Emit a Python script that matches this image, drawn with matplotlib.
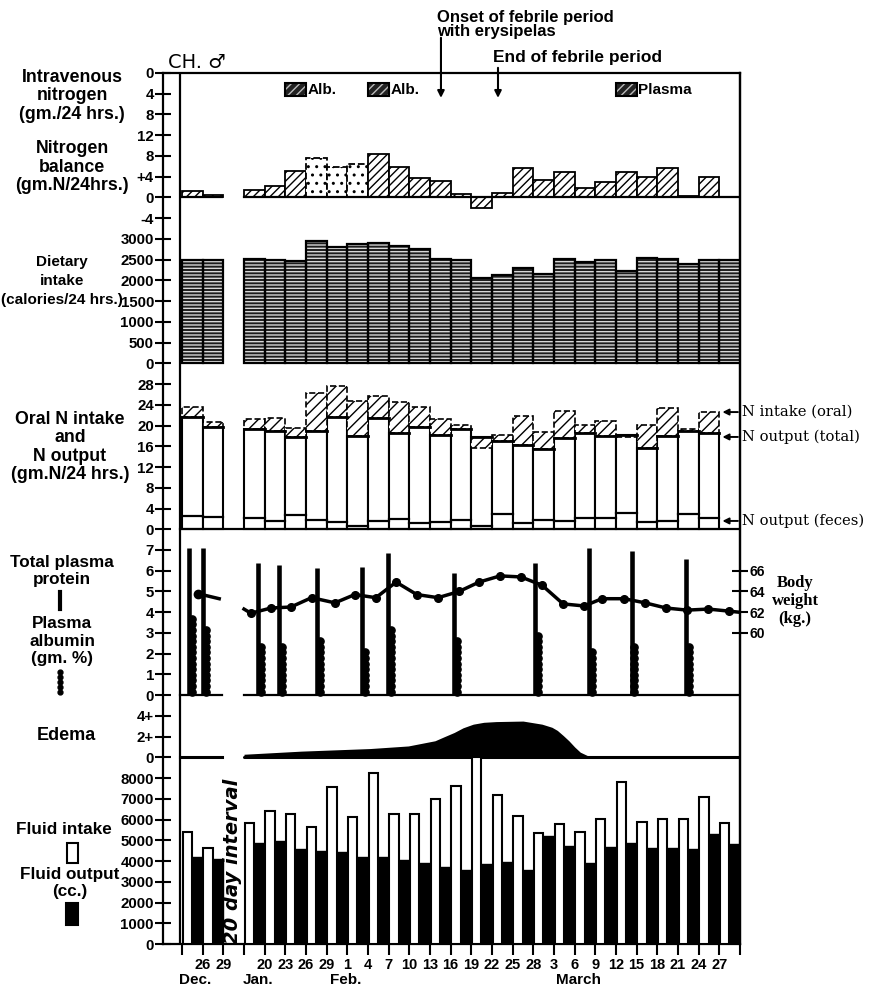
import numpy as np
import matplotlib
matplotlib.use('Agg')
import matplotlib.pyplot as plt
from matplotlib.lines import Line2D
from matplotlib.patches import Rectangle

plt.rcParams['font.family'] = ['DejaVu Sans']
plt.rcParams['hatch.linewidth'] = 1.0
NARROW = 'Liberation Sans'

nan = np.nan
# ---------------- data ----------------
# 3-day periods: two in December (slots 0,1), then a 20-day gap, then Jan 17 .. Mar 30 (slots 3..26)
slots = [0, 1] + list(range(3, 27))
x_tick_labels = ['', '26', '29', '', '20', '23', '26', '29', '1', '4', '7', '10', '13', '16',
                 '19', '22', '25', '28', '3', '6', '9', '12', '15', '18', '21', '24', '27', '']
month_labels = ['Dec.', 'Jan.', 'Feb.', 'March']
month_pos = [0.65, 3.7, 7.9, 19.2]

iv_slots = [5, 9, 21]
iv_nitrogen = [4.4, 4.4, 4.4]
iv_labels = ['Alb.', 'Alb.', 'Plasma']

n_balance = [1.3, 0.4,
             1.5, 2.2, 5.1, 7.7, 5.8, 6.4, 8.4, 5.8, 3.7, 3.2, 0.6, -2.0,
             0.8, 5.6, 3.3, 5.0, 1.8, 2.9, 5.0, 4.0, 5.6, 0.2, 4.0, nan]

dietary = [2500, 2490,
           2520, 2500, 2460, 2940, 2800, 2870, 2900, 2825, 2760, 2520, 2480, 2050,
           2120, 2300, 2150, 2520, 2440, 2480, 2220, 2530, 2520, 2400, 2500, 2480]

oral_intake = [23.5, 20.7,
               21.3, 21.5, 19.6, 26.3, 27.6, 24.7, 25.7, 24.6, 23.5, 21.3, 20.2, 15.7,
               18.1, 21.9, 18.7, 22.8, 20.2, 20.8, 17.8, 20.2, 23.4, 19.4, 22.6, nan]
n_output_total = [21.6, 19.8,
                  19.4, 19.0, 17.8, 18.9, 21.6, 17.9, 21.5, 18.6, 19.7, 18.1, 19.4, 17.8,
                  17.1, 16.2, 15.4, 17.6, 18.6, 17.9, 18.1, 15.7, 17.9, 18.9, 18.6, nan]
n_output_feces = [2.6, 2.4,
                  2.2, 1.5, 2.8, 1.8, 1.3, 0.6, 1.5, 1.9, 1.2, 1.4, 1.8, 0.6,
                  2.9, 1.2, 1.8, 1.5, 2.1, 2.1, 3.2, 1.3, 1.6, 2.9, 2.2, nan]

protein_x = [0.36, 1.02, 3.70, 4.70, 6.55, 8.73, 9.99, 13.15, 17.07, 19.71, 21.75, 24.41]
total_protein = [7.1, 7.1, 6.35, 6.27, 6.11, 6.19, 6.84, 5.9, 6.39, 7.08, 6.97, 6.55]
albumin = [3.69, 3.41, 2.55, 2.34, 2.64, 2.23, 3.23, 2.72, 3.09, 2.23, 2.6, 2.51]

weight_dec_x = [0.75, 1.8]
weight_dec = [63.8, 63.3]
weight_x = [3.0, 3.33, 4.30, 5.27, 6.27, 7.40, 8.36, 9.38, 10.36, 11.36, 12.39, 13.41, 14.37,
            15.39, 16.40, 17.42, 18.44, 19.46, 20.32, 21.40, 22.41, 23.43, 24.44, 25.47, 26.48, 26.95]
weight = [62.3, 61.9, 62.4, 62.5, 63.4, 62.9, 63.7, 63.4, 64.9, 63.7, 63.4, 64.0, 64.9,
          65.5, 65.4, 64.6, 62.8, 62.6, 63.3, 63.3, 62.9, 62.4, 62.2, 62.3, 62.1, 62.0]

edema_x = [3.0, 5.77, 9.10, 10.95, 12.24, 12.7, 13.17, 13.6, 14.09, 14.6, 15.2, 16.5, 17.42,
           17.9, 18.16, 18.45, 18.72, 19.0, 19.27, 19.64, 20.5, 27.0]
edema = [0.3, 0.6, 0.85, 1.1, 1.6, 2.0, 2.4, 2.85, 3.2, 3.38, 3.45, 3.5, 3.2,
         2.9, 2.6, 2.1, 1.6, 1.0, 0.5, 0.15, 0.08, 0.08]

fluid_intake = [5380, 4630,
                5820, 6390, 6270, 5660, 7580, 6110, 8250, 6270, 6270, 6990, 7630, 9000,
                7200, 6170, 5370, 5770, 5420, 6030, 7790, 5900, 6030, 6030, 7080, 5850]
fluid_output = [4180, 4100,
                4870, 4980, 4580, 4500, 4460, 4180, 4180, 4070, 3890, 3730, 3590, 3860,
                3970, 3570, 5210, 4740, 3890, 4700, 4860, 4650, 4620, 4580, 5290, 4810]

y_tick_labels = ['0', '1000', '2000', '3000', '4000', '5000', '6000', '7000', '8000',
                 '0', '2+', '4+',
                 '0', '1', '2', '3', '4', '5', '6', '7',
                 '0', '4', '8', '12', '16', '20', '24', '28',
                 '0', '500', '1000', '1500', '2000', '2500', '3000',
                 '-4', '0', '+4', '8', '12', '8', '4', '0']
weight_ticks = [60, 62, 64, 66]

# ---------------- band mapping (one common vertical scale) ----------------
def u_nb(v): return 36 + v / 4
def u_iv(v): return 42 - v / 4
def u_diet(v): return 28 + v / 500
def u_oral(v): return 20 + v / 4
def u_pl(v): return 12 + v
def u_bw(w): return 15 + (w - 60) / 2
def u_ed(v): return 9 + v / 2
def u_fl(v): return v / 1000

W, H = 872, 986
fig = plt.figure(figsize=(W / 100, H / 100), dpi=100)
ax = fig.add_axes([163 / W, 1 - 944 / H, (740 - 163) / W, (944 - 73) / H])
ax.set_xlim(-0.92, 27)
ax.set_ylim(0, 42)
for sp in ax.spines.values():
    sp.set_linewidth(1.6)

def ftext(xp, yp, s, **kw):
    kw.setdefault('fontweight', 'bold')
    kw.setdefault('family', NARROW)
    fig.text(xp / W, 1 - yp / H, s, **kw)

# inner frame line
ax.plot([-0.1, -0.1], [0, 42], color='k', lw=1.6)

# ---- intravenous nitrogen
for s, v, lab in zip(iv_slots, iv_nitrogen, iv_labels):
    ax.bar(s, 0.6, bottom=u_iv(v), width=1, align='edge', facecolor='#222222',
           edgecolor='#bdbdbd', hatch='////', lw=0, zorder=3)
    ax.add_patch(Rectangle((s, u_iv(v)), 1, 0.6, fill=False, edgecolor='k', lw=1.5, zorder=4))
    ax.text(s + 1.08, u_iv(v) + 0.3, lab, ha='left', va='center', fontsize=11,
            fontweight='bold', family=NARROW)

# ---- nitrogen balance
for s, v in zip(slots, n_balance):
    if np.isnan(v):
        continue
    hatch = '..' if s in (6, 7, 8) else '////'
    ls = '--' if s in (6, 7, 8) else '-'
    bottom = 36 if v >= 0 else u_nb(v)
    ax.bar(s, abs(v) / 4, bottom=bottom, width=1, align='edge', facecolor='white',
           edgecolor='k', hatch=hatch, lw=1.3, linestyle=ls, zorder=3)
ax.plot([0, 1.95], [36, 36], color='k', lw=1.6, zorder=4)
ax.plot([3, 27], [36, 36], color='k', lw=1.6, zorder=4)

# ---- dietary intake
d_u = [u_diet(v) - 28 for v in dietary]
ax.bar(slots, d_u, bottom=28, width=1, align='edge', facecolor='#1c1c1c',
       edgecolor='#d8d8d8', hatch='-----', lw=0, zorder=3)
ax.bar(slots, d_u, bottom=28, width=1, align='edge', fill=False, edgecolor='k', lw=1.6, zorder=4)

# ---- oral N intake / output
for s, ni, nt, nf in zip(slots, oral_intake, n_output_total, n_output_feces):
    if np.isnan(nt):
        continue
    ax.bar(s, u_oral(nt) - 20, bottom=20, width=1, align='edge', facecolor='white',
           edgecolor='k', lw=1.5, zorder=3)
    lo, hi = min(ni, nt), max(ni, nt)
    ax.bar(s, (hi - lo) / 4, bottom=u_oral(lo), width=1, align='edge', facecolor='white',
           edgecolor='k', hatch='///', lw=1.2, linestyle='--', zorder=4)
    ax.plot([s, s + 1], [u_oral(nt)] * 2, color='k', lw=2, zorder=5)
    ax.plot([s, s + 1], [u_oral(nf)] * 2, color='k', lw=1.6, zorder=5)
ax.plot([-0.1, 27], [20, 20], color='k', lw=1.6, zorder=5)

for lab, val in [('N intake (oral)', 22.6), ('N output (total)', 17.8), ('N output (feces)', 1.6)]:
    ax.annotate(lab, xy=(26.15, u_oral(val)), xytext=(27.1, u_oral(val)),
                ha='left', va='center', fontsize=10.6, family='DejaVu Serif',
                annotation_clip=False,
                arrowprops=dict(arrowstyle='-|>', color='k', lw=1.4, shrinkA=1, shrinkB=0,
                                mutation_scale=9))

# ---- plasma protein / albumin
for x, t, a in zip(protein_x, total_protein, albumin):
    ax.plot([x, x], [12, u_pl(t)], color='k', lw=3.3, solid_capstyle='butt', zorder=4)
    ys = np.arange(12.17, u_pl(a), 0.27)
    ax.plot([x + 0.14] * len(ys), ys, 'o', color='k', ms=5.2, zorder=4)
ax.plot([-0.1, 1.95], [12, 12], color='k', lw=1.6)
ax.plot([3, 27], [12, 12], color='k', lw=1.6)

# ---- body weight
ax.plot(weight_dec_x, [u_bw(w) for w in weight_dec], color='k', lw=2.5, zorder=5)
ax.plot(weight_dec_x[:1], [u_bw(weight_dec[0])], 'o', color='k', ms=6, zorder=5)
ax.plot(weight_x, [u_bw(w) for w in weight], color='k', lw=2.5, zorder=5)
ax.plot(weight_x[1:-1], [u_bw(w) for w in weight[1:-1]], 'o', color='k', ms=5.5, zorder=5)

# ---- edema
ax.fill_between(edema_x, 9, [u_ed(v) for v in edema], color='k', lw=0, zorder=3)
ax.plot([-0.1, 1.95], [9, 9], color='k', lw=2.2)
ax.plot([3, 27], [9, 9], color='k', lw=2.2, solid_capstyle='round')

# ---- fluid
ax.bar([s + 0.03 for s in slots], [u_fl(v) for v in fluid_intake], width=0.45, align='edge',
       facecolor='white', edgecolor='k', lw=1.5, zorder=3)
ax.bar([s + 0.48 for s in slots], [u_fl(v) for v in fluid_output], width=0.5, align='edge',
       facecolor='k', edgecolor='k', lw=1.0, zorder=3)
ax.text(2.42, 4.0, '20 day interval', rotation=90, ha='center', va='center',
        fontsize=14, fontstyle='italic', fontweight='bold')

# ---- axes ticks
ax.set_yticks(range(43))
ax.set_yticklabels(y_tick_labels, fontsize=10.8, fontweight='bold', family=NARROW)
ax.tick_params(axis='y', direction='inout', length=11, width=1.5, pad=1)
ax.set_xticks(range(28))
ax.set_xticklabels(x_tick_labels, fontsize=10.5, fontweight='bold', family=NARROW)
ax.tick_params(axis='x', direction='out', length=8, width=1.5, pad=2)
for m, p in zip(month_labels, month_pos):
    ax.text(p, -1.75, m, ha='center', va='center', fontsize=11, fontweight='bold',
            family=NARROW)

ax2 = ax.twinx()
ax2.set_ylim(0, 42)
ax2.set_yticks([u_bw(w) for w in weight_ticks])
ax2.set_yticklabels([str(w) for w in weight_ticks], fontsize=10, fontweight='bold', family=NARROW)
ax2.tick_params(axis='y', direction='inout', length=11, width=1.5, pad=1)
for k in ('top', 'bottom', 'left'):
    ax2.spines[k].set_visible(False)
ax2.spines['right'].set_linewidth(1.6)

# ---- annotations on top
ftext(168, 62, 'CH. \u2642', ha='left', va='center', fontsize=14, fontweight='normal',
      family='DejaVu Sans')
ftext(437, 10, 'Onset of febrile period\nwith erysipelas', ha='left', va='top',
      fontsize=12, linespacing=0.9)
ftext(493, 50, 'End of febrile period', ha='left', va='top', fontsize=12.5)
for xs, y0 in [(12.53, 43.7), (15.29, 42.25)]:
    ax.annotate('', xy=(xs, 40.8), xytext=(xs, y0), annotation_clip=False,
                arrowprops=dict(arrowstyle='-|>', color='k', lw=1.5, mutation_scale=10,
                                shrinkA=0, shrinkB=0))

# ---- left-side labels
ftext(72, 96, 'Intravenous\nnitrogen\n(gm./24 hrs.)', ha='center', va='center', fontsize=12.8,
      linespacing=1.1)
ftext(72, 167, 'Nitrogen\nbalance\n(gm.N/24hrs.)', ha='center', va='center', fontsize=12.8,
      linespacing=1.1)
for line, yy in [('Dietary', 262), ('intake', 281), ('(calories/24 hrs.)', 300)]:
    ftext(62, yy, line, ha='center', va='center', fontsize=11)
ftext(70, 447, 'Oral N intake\nand\nN output\n(gm.N/24 hrs.)', ha='center', va='center',
      fontsize=12.8, linespacing=1.1)
ftext(62, 571, 'Total plasma\nprotein', ha='center', va='center', fontsize=12.3)
fig.add_artist(Line2D([60 / W, 60 / W], [1 - 609 / H, 1 - 592 / H], color='k', lw=3))
ftext(62, 641, 'Plasma\nalbumin\n(gm. %)', ha='center', va='center', fontsize=12.3)
fig.add_artist(Line2D([60 / W] * 5, [1 - yy / H for yy in (672, 677, 682, 687, 692)],
                      color='k', lw=0, marker='o', ms=3.5))
ftext(66, 736, 'Edema', ha='center', va='center', fontsize=13)
ftext(64, 830, 'Fluid intake', ha='center', va='center', fontsize=12.3)
fig.add_artist(Rectangle((67 / W, 1 - 863 / H), 11 / W, 20 / H, transform=fig.transFigure,
                         facecolor='white', edgecolor='k', lw=1.5))
ftext(70, 883, 'Fluid output\n(cc.)', ha='center', va='center', fontsize=12.3)
fig.add_artist(Rectangle((66 / W, 1 - 925 / H), 12 / W, 22 / H, transform=fig.transFigure,
                         facecolor='k', edgecolor='k', lw=1.5))
ftext(795, 601, 'Body\nweight\n(kg.)', ha='center', va='center', fontsize=12,
      fontweight='bold', family='Liberation Serif', linespacing=1.15)

fig.savefig('out.png', dpi=100)
